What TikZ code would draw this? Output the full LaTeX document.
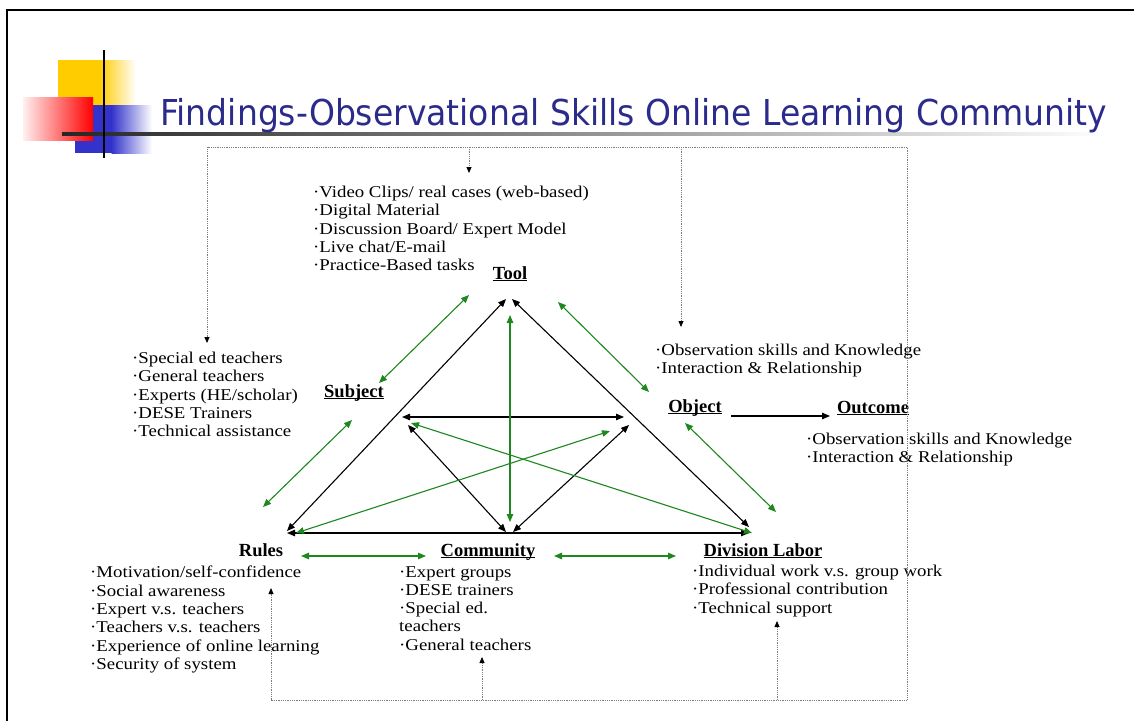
\documentclass[tikz,border=0pt]{standalone}
\usepackage{graphicx}
\usepackage{fontspec}
\setmainfont{Liberation Serif}
\newfontfamily\lstfam[FakeStretch=1.14]{Liberation Serif}
\newfontfamily\titlefam{DejaVu Sans}
\usetikzlibrary{arrows.meta}
\definecolor{titleblue}{RGB}{43,43,140}
\definecolor{arrgreen}{RGB}{30,135,30}
\definecolor{dotgray}{RGB}{125,125,125}
\definecolor{decoyellow}{RGB}{255,204,0}
\definecolor{decoblue}{RGB}{51,51,204}
\newcommand\ulbox[1]{\underline{\smash{#1}}}
\begin{document}
\begin{tikzpicture}[x=1pt,y=-1pt,
  blk/.style={draw=black,line width=1.1pt,{Triangle[length=8pt,width=6.5pt]}-{Triangle[length=8pt,width=6.5pt]}},
  grn/.style={draw=arrgreen,line width=1.1pt,{Triangle[length=8pt,width=6.5pt]}-{Triangle[length=8pt,width=6.5pt]}},
  dotline/.style={draw=dotgray,line width=0.8pt,dash pattern=on 0.9pt off 0.9pt},
  dottip/.style={-{Triangle[length=6pt,width=5pt,color=black]}},
  lst/.style={anchor=north west,align=left,inner sep=0pt,font={\lstfam\fontsize{16.5}{18.3}\selectfont}},
  lbl/.style={anchor=base,inner sep=0pt,font={\bfseries\fontsize{18.5}{20}\selectfont}}
]
\useasboundingbox (0,0) rectangle (1134,720);
\fill[white] (0,0) rectangle (1134,720);
% frame
\draw[line width=2.2pt] (7,724) -- (7,10) -- (1138,10);
% decoration
\fill[decoyellow] (58,60) rectangle (100,106);
\shade[left color=decoyellow,right color=white] (99.5,60) rectangle (136,106);
\fill[decoblue] (75,105) rectangle (112,153);
\shade[left color=decoblue,right color=white] (111.5,105) rectangle (152,153);
\shade[left color=red!6,right color=red] (23,97) rectangle (93,140);
\shade[left color=black!85,right color=white] (62,132) rectangle (1110,135);
\draw[line width=2.5pt] (104,50) -- (104,158);
% title
\node[anchor=base west,inner sep=0pt,text=titleblue] (title) at (160,125)
  {\scalebox{1}[1.08]{\resizebox{947pt}{!}{\titlefam Findings-Observational Skills Online Learning Community}}};
% text lists
\node[lst] (toollist) at (313,186) {·Video Clips/ real cases (web-based)\\·Digital Material\\·Discussion Board/ Expert Model\\·Live chat/E-mail\\·Practice-Based tasks};
\node[lst] (sublist) at (132,352) {·Special ed teachers\\·General teachers\\·Experts (HE/scholar)\\·DESE Trainers\\·Technical assistance};
\node[lst] (objlist) at (655,344) {·Observation skills and Knowledge\\·Interaction \& Relationship};
\node[lst] (outlist) at (806,433) {·Observation skills and Knowledge\\·Interaction \& Relationship};
\node[lst] (rullist) at (90,566) {·Motivation/self-confidence\\·Social awareness\\·Expert v.s. teachers\\·Teachers v.s. teachers\\·Experience of online learning\\·Security of system};
\node[lst] (comlist) at (399,566) {·Expert groups\\·DESE trainers\\·Special ed.\\teachers\\·General teachers};
\node[lst] (divlist) at (692,565) {·Individual work v.s. group work\\·Professional contribution\\·Technical support};
% labels
\node[lbl] (tool) at (510,279) {\ulbox{Tool}};
\node[lbl] (subject) at (354,397) {\ulbox{Subject}};
\node[lbl] (object) at (695,412) {\ulbox{Object}};
\node[lbl] (outcome) at (873,413) {\ulbox{Outcome}};
\node[lbl] (rules) at (261,556) {Rules};
\node[lbl] (community) at (488,556) {\ulbox{Community}};
\node[lbl] (division) at (763,556) {\ulbox{Division Labor}};
% triangle points
\coordinate (TL) at (506,299);
\coordinate (TR) at (512,299);
\coordinate (Rt) at (287,531);
\coordinate (R) at (287,533);
\coordinate (Rg) at (296,533);
\coordinate (CL) at (506,532);
\coordinate (CR) at (513,532);
\coordinate (Dt) at (749,527);
\coordinate (D) at (749,533);
\coordinate (Dg) at (752,533);
\coordinate (hL) at (402,417);
\coordinate (hR) at (624,417);
\coordinate (cl) at (408,425);
\coordinate (cr) at (629,425);
\coordinate (vT) at (510,315);
\coordinate (vB) at (510,522);
\coordinate (gRe) at (610,431);
\coordinate (gDe) at (411,423);
\coordinate (s1a) at (469,295);
\coordinate (s1b) at (379,383);
\coordinate (s2a) at (352,420);
\coordinate (s2b) at (263,507);
\coordinate (o1a) at (558,302);
\coordinate (o1b) at (649,392);
\coordinate (o2a) at (685,423);
\coordinate (o2b) at (776,512);
\coordinate (rc1) at (301,556);
\coordinate (rc2) at (426,556);
\coordinate (cd1) at (554,556);
\coordinate (cd2) at (676,556);
\coordinate (oo1) at (731,416);
\coordinate (oo2) at (830,416);
% black connectors
\draw[blk] (Rt) -- (TL);
\draw[blk] (TR) -- (Dt);
\draw[blk] (R) -- (D);
\draw[blk] (hL) -- (hR);
\draw[blk] (cl) -- (CL);
\draw[blk] (cr) -- (CR);
\draw[black,line width=1.1pt,-{Triangle[length=8pt,width=6.5pt]}] (oo1) -- (oo2);
% green connectors
\draw[grn] (vT) -- (vB);
\draw[grn] (Rg) -- (gRe);
\draw[grn] (Dg) -- (gDe);
\draw[grn] (s1a) -- (s1b);
\draw[grn] (s2a) -- (s2b);
\draw[grn] (o1a) -- (o1b);
\draw[grn] (o2a) -- (o2b);
\draw[grn] (rc1) -- (rc2);
\draw[grn] (cd1) -- (cd2);
% dotted feedback lines
\coordinate (dTL) at (207,147);
\coordinate (dTR) at (907,147);
\coordinate (dBR) at (907,700);
\coordinate (dBL) at (271,700);
\coordinate (dSub) at (207,343);
\coordinate (dRul) at (271,588);
\coordinate (dToolS) at (469,147);
\coordinate (dTool) at (469,173);
\coordinate (dObjS) at (681,147);
\coordinate (dObj) at (681,327);
\coordinate (dComS) at (482,700);
\coordinate (dCom) at (482,657);
\coordinate (dDivS) at (777,700);
\coordinate (dDiv) at (777,621);
\draw[dotline,{Triangle[length=6pt,width=5pt,color=black]}-{Triangle[length=6pt,width=5pt,color=black]}] (dSub) -- (dTL) -- (dTR) -- (dBR) -- (dBL) -- (dRul);
\draw[dotline,dottip] (dToolS) -- (dTool);
\draw[dotline,dottip] (dObjS) -- (dObj);
\draw[dotline,dottip] (dComS) -- (dCom);
\draw[dotline,dottip] (dDivS) -- (dDiv);
\end{tikzpicture}
\end{document}
